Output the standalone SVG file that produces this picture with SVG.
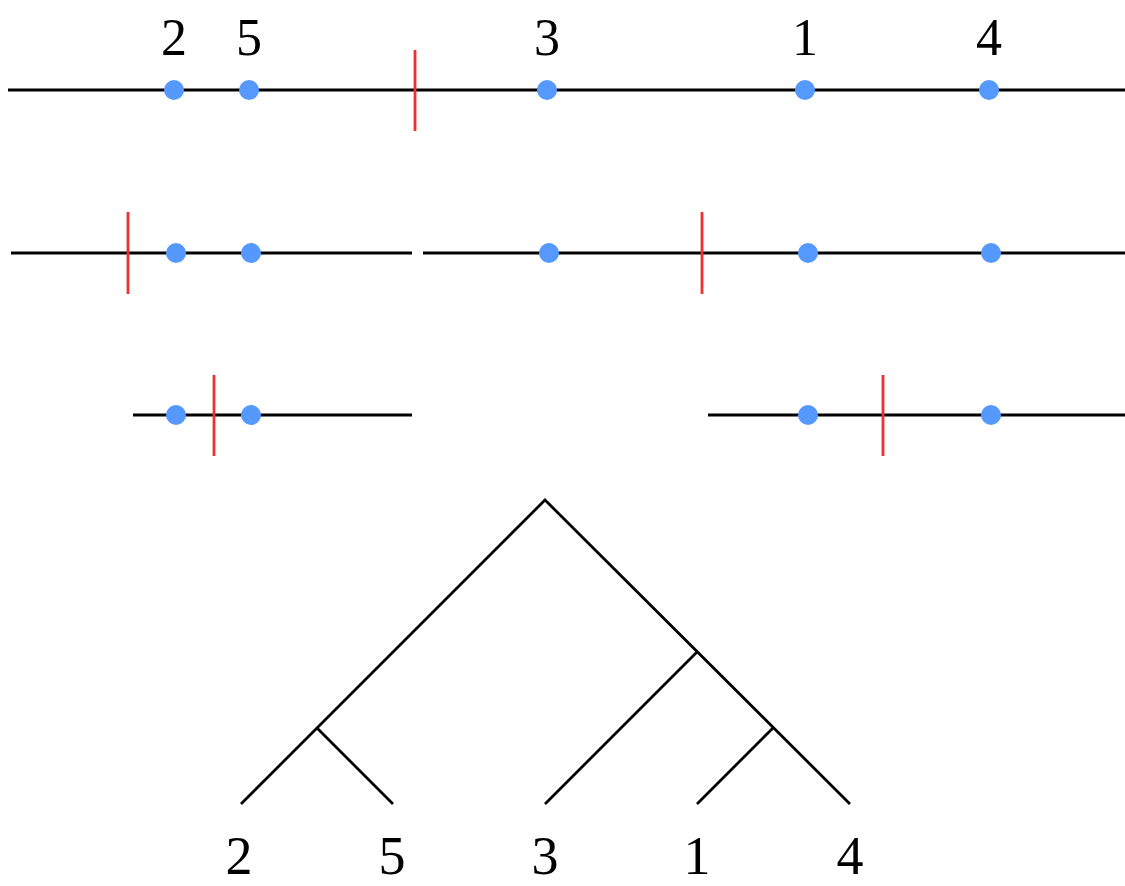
<svg xmlns="http://www.w3.org/2000/svg" width="1125" height="886" viewBox="0 0 1125 886">
<style>
.ln{stroke:#000;stroke-width:2.8;fill:none}
.cut{stroke:#f03030;stroke-width:2.8}
.pt{fill:#5599ff}
.lbl{font-family:"Liberation Serif","DejaVu Serif",serif;font-size:52px;text-anchor:middle;fill:#000}
.lbl2{font-family:"Liberation Serif","DejaVu Serif",serif;font-size:54px;text-anchor:middle;fill:#000}
</style>
<rect width="1125" height="886" fill="#fff"/>
<g id="row1">
<line class="ln" x1="8" y1="90" x2="1125" y2="90"/>
<line class="cut" x1="415" y1="50" x2="415" y2="131"/>
<circle class="pt" cx="174" cy="90" r="10"/>
<circle class="pt" cx="249" cy="90" r="10"/>
<circle class="pt" cx="547" cy="90" r="10"/>
<circle class="pt" cx="805" cy="90" r="10"/>
<circle class="pt" cx="989" cy="90" r="10"/>
<text class="lbl" x="174" y="55">2</text>
<text class="lbl" x="249" y="55">5</text>
<text class="lbl" x="547" y="55">3</text>
<text class="lbl" x="805" y="55">1</text>
<text class="lbl" x="989" y="55">4</text>
</g>
<g id="row2">
<line class="ln" x1="11" y1="253" x2="412" y2="253"/>
<line class="ln" x1="423" y1="253" x2="1125" y2="253"/>
<line class="cut" x1="128" y1="212" x2="128" y2="294"/>
<line class="cut" x1="702" y1="212" x2="702" y2="294"/>
<circle class="pt" cx="176" cy="253" r="10"/>
<circle class="pt" cx="251" cy="253" r="10"/>
<circle class="pt" cx="549" cy="253" r="10"/>
<circle class="pt" cx="808" cy="253" r="10"/>
<circle class="pt" cx="991" cy="253" r="10"/>
</g>
<g id="row3">
<line class="ln" x1="133" y1="415" x2="412" y2="415"/>
<line class="ln" x1="708" y1="415" x2="1125" y2="415"/>
<line class="cut" x1="214" y1="375" x2="214" y2="456"/>
<line class="cut" x1="883" y1="375" x2="883" y2="456"/>
<circle class="pt" cx="176" cy="415" r="10"/>
<circle class="pt" cx="251" cy="415" r="10"/>
<circle class="pt" cx="808" cy="415" r="10"/>
<circle class="pt" cx="991" cy="415" r="10"/>
</g>
<g id="tree">
<path class="ln" stroke-width="2" d="M241,804 L545,500 L850,804 M317,728 L393,804 M697,652 L545,804 M773,728 L697,804"/>
</g>
<g id="leaves">
<text class="lbl2" x="239" y="874">2</text>
<text class="lbl2" x="392" y="874">5</text>
<text class="lbl2" x="545" y="874">3</text>
<text class="lbl2" x="697" y="874">1</text>
<text class="lbl2" x="850" y="874">4</text>
</g>
</svg>
